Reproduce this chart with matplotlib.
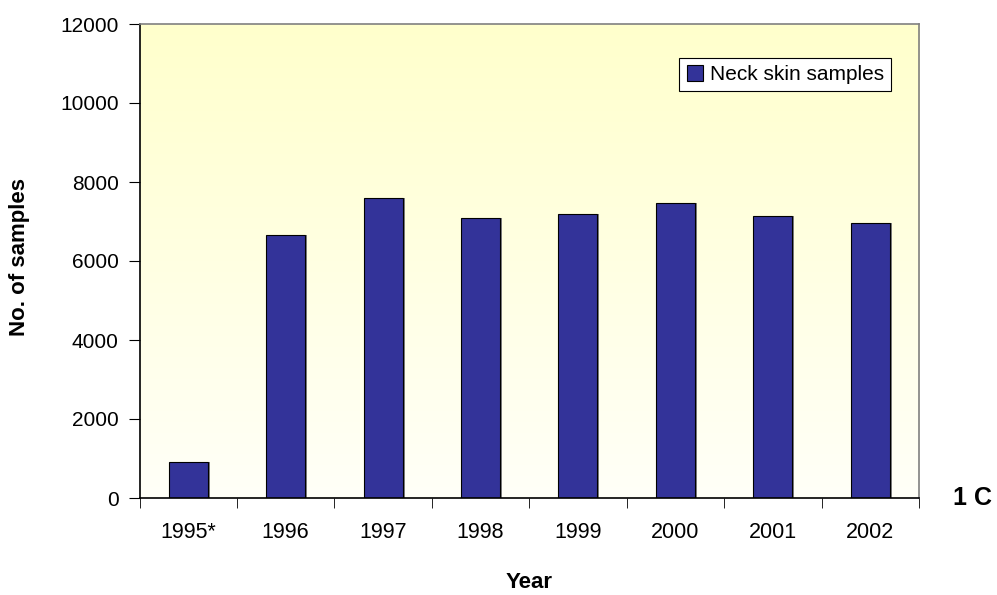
import matplotlib.pyplot as plt
import numpy as np
from matplotlib.colors import LinearSegmentedColormap

plt.rcParams['font.family'] = ['Liberation Sans', 'DejaVu Sans']

years = ['1995*', '1996', '1997', '1998', '1999', '2000', '2001', '2002']
neck_skin = [900, 6650, 7590, 7100, 7200, 7460, 7130, 6950]
y_ticks = [0, 2000, 4000, 6000, 8000, 10000, 12000]

fig = plt.figure(figsize=(9.97, 5.95), dpi=100)
ax = fig.add_axes([139.5 / 997, 1 - 498 / 595, (919 - 139.5) / 997, (498 - 24) / 595])

# yellow-to-white gradient in the plot area
grad = np.linspace(1, 0, 256).reshape(-1, 1)
cmap = LinearSegmentedColormap.from_list('bg', ['#fffff8', '#ffffcc'])
ax.imshow(grad, cmap=cmap, aspect='auto', extent=[0, 1, 0, 1],
          transform=ax.transAxes, zorder=0)

x = np.arange(len(years))
# faint shadow then the bars
ax.bar(x + 0.02, neck_skin, width=0.4, color='#808080', zorder=1, linewidth=0)
ax.bar(x, neck_skin, width=0.4, color='#333399', edgecolor='black',
       linewidth=0.8, zorder=2, label='Neck skin samples')

ax.set_xlim(-0.5, len(years) - 0.5)
ax.set_ylim(0, 12000)
ax.set_yticks(y_ticks)
ax.set_xticks(x)
ax.set_xticklabels(years)
ax.set_xticks(np.arange(len(years) + 1) - 0.5, minor=True)
ax.tick_params(axis='x', which='major', length=0, pad=17, labelsize=15.5)
ax.tick_params(axis='x', which='minor', length=7, direction='out', color='black')
ax.tick_params(axis='y', length=8, direction='out', pad=7, labelsize=15)

for s in ['left', 'bottom']:
    ax.spines[s].set_color('black')
    ax.spines[s].set_linewidth(1.2)
for s in ['top', 'right']:
    ax.spines[s].set_color('#808080')
    ax.spines[s].set_linewidth(1.2)

# axis titles placed where the reference has them
fig.text(19 / 997, 1 - 257 / 595, 'No. of samples', fontsize=16, fontweight='bold',
         rotation=90, ha='center', va='center')
fig.text(529 / 997, 1 - 582 / 595, 'Year', fontsize=16, fontweight='bold',
         ha='center', va='center')

leg = ax.legend(loc='upper right', bbox_to_anchor=(0.964, 0.929), fontsize=15,
                fancybox=False, framealpha=1, edgecolor='black',
                handlelength=0.8, handleheight=0.8, handletextpad=0.3,
                borderpad=0.35, borderaxespad=0)
leg.get_frame().set_linewidth(0.8)

fig.text(972 / 997, 1 - 498 / 595, '1 C', fontsize=18, fontweight='bold',
         ha='center', va='center')

fig.savefig('out.png', dpi=100)
